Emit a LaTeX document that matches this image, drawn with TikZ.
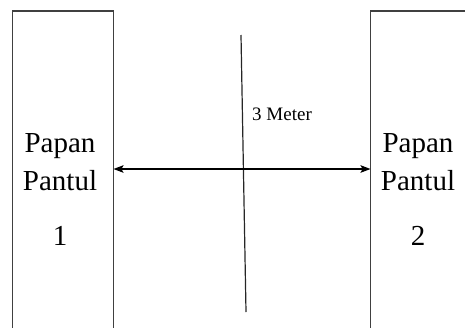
\documentclass[tikz,border=0pt]{standalone}
\usepackage{fontspec}
\setmainfont{Liberation Serif}
\usetikzlibrary{arrows.meta}
\begin{document}
\begin{tikzpicture}[x=1pt,y=-1pt,
		papan/.style={draw=black!75,line width=1.3pt,rectangle,inner sep=0pt,outer sep=0pt,anchor=north west,minimum height=340pt},
		tulisan/.style={align=center,inner sep=0pt,anchor=north,font=\fontsize{29}{38}\selectfont},
		panah/.style={line width=1.3pt,{Stealth[length=10pt,width=7.5pt,inset=2pt]}-{Stealth[length=10pt,width=7.5pt,inset=2pt]}}]
			\useasboundingbox (0,0) rectangle (465,327);
			% Papan Pantul
			\node[papan,minimum width=101pt] (pp1) at (12.5,11) {};
			\node[papan,minimum width=110pt] (pp2) at (370.5,11) {};
			\node[tulisan] (teks1) at (60,133) {Papan\\Pantul\\[17pt]1};
			\node[tulisan] (teks2) at (418,133) {Papan\\Pantul\\[17pt]2};
			% Garis tengah
			\coordinate (atas) at (241,35);
			\coordinate (bawah) at (246,312);
			\coordinate (tengah) at (243.5,169);
			\draw[line width=1.2pt,black!85] (atas) to (bawah);
			\draw[panah] (pp1.east |- tengah) to (pp2.west |- tengah);
			\node[font=\fontsize{19}{22}\selectfont,inner sep=0pt,anchor=base west] (jarak) at (252,120) {3 Meter};
		\end{tikzpicture}
\end{document}
